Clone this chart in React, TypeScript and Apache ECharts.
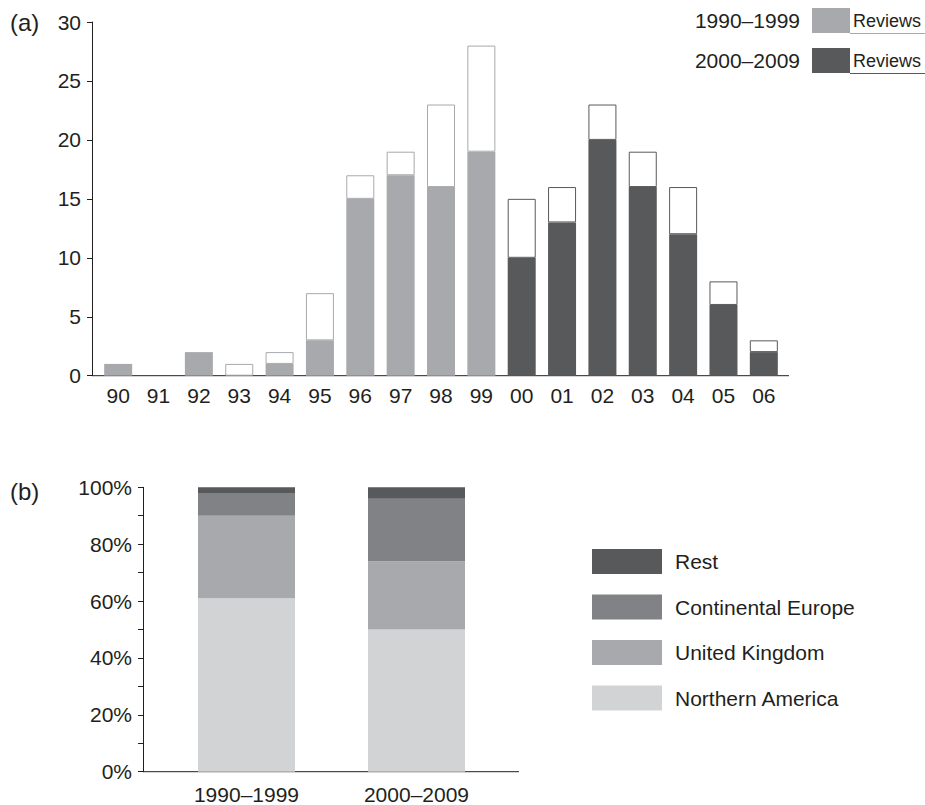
import React, { useEffect, useRef } from "react";
import * as echarts from "echarts";

const years = ["90", "91", "92", "93", "94", "95", "96", "97", "98", "99", "00", "01", "02", "03", "04", "05", "06"];
const otherArticles = [1, 0, 2, 0, 1, 3, 15, 17, 16, 19, 10, 13, 20, 16, 12, 6, 2];
const reviews = [0, 0, 0, 1, 1, 4, 2, 2, 7, 9, 5, 3, 3, 3, 4, 2, 1];
const decadeOf = ["1990–1999", "1990–1999", "1990–1999", "1990–1999", "1990–1999", "1990–1999", "1990–1999", "1990–1999", "1990–1999", "1990–1999", "2000–2009", "2000–2009", "2000–2009", "2000–2009", "2000–2009", "2000–2009", "2000–2009"];

const periods = ["1990–1999", "2000–2009"];
const northernAmerica = [61, 50];
const unitedKingdom = [29, 24];
const continentalEurope = [8, 22];
const rest = [2, 4];

const TEXT = "#231f20";
const FONT = "'Liberation Sans', Arial, Helvetica, sans-serif";
const FS = 21;
const DECADE_COLOR: Record<string, string> = { "1990–1999": "#a7a9ac", "2000–2009": "#58595b" };

export default function App() {
  const ref = useRef<HTMLDivElement>(null);
  useEffect(() => {
    if (!ref.current) return;
    const chart = echarts.init(ref.current, null, { renderer: "svg" });
    const filled = otherArticles.map((v, i) => ({
      value: v === 0 ? null : v,
      itemStyle: { color: DECADE_COLOR[decadeOf[i]] },
    }));
    const white = reviews.map((v, i) => ({
      value: v === 0 ? null : v,
      itemStyle: { color: "#ffffff", borderColor: DECADE_COLOR[decadeOf[i]], borderWidth: 1 },
    }));
    const legendA = (label: string, y: number, color: string) => [
      { type: "text", x: 800, y: y + 12.5, style: { text: label, fill: TEXT, font: `${FS}px ${FONT}`, textAlign: "right", textVerticalAlign: "middle" } },
      { type: "rect", x: 812, y, shape: { x: 0, y: 0, width: 38, height: 25 }, style: { fill: color } },
      { type: "text", x: 853, y: y + 12.5, style: { text: "Reviews", fill: TEXT, font: `18px ${FONT}`, textAlign: "left", textVerticalAlign: "middle" } },
      { type: "line", shape: { x1: 850, y1: y + 25.5, x2: 925, y2: y + 25.5 }, style: { stroke: color, lineWidth: 1 } },
    ];
    const option: any = {
      animation: false,
      textStyle: { fontFamily: FONT },
      grid: [
        { left: 98, top: 22, width: 686, height: 353.7 },
        { left: 161.5, top: 487.3, width: 340, height: 284.4 },
      ],
      xAxis: [
        {
          type: "category", gridIndex: 0, data: years,
          axisLine: { show: false }, axisTick: { show: false },
          axisLabel: { color: TEXT, fontSize: FS, margin: 9, fontFamily: FONT },
        },
        {
          type: "category", gridIndex: 1, data: periods,
          axisLine: { show: false }, axisTick: { show: false },
          axisLabel: { color: TEXT, fontSize: FS, margin: 12, fontFamily: FONT },
        },
      ],
      yAxis: [
        {
          type: "value", gridIndex: 0, min: 0, max: 30, interval: 5, offset: 6,
          axisLine: { show: true, lineStyle: { color: TEXT, width: 1 } },
          axisTick: { show: true, length: 5, lineStyle: { color: TEXT } },
          splitLine: { show: false },
          axisLabel: { color: TEXT, fontSize: FS, margin: 11, fontFamily: FONT },
        },
        {
          type: "value", gridIndex: 1, min: 0, max: 100, interval: 10, offset: 18.5,
          axisLine: { show: true, lineStyle: { color: TEXT, width: 1 } },
          axisTick: { show: true, length: 5, lineStyle: { color: TEXT } },
          splitLine: { show: false },
          axisLabel: {
            color: TEXT, fontSize: FS, margin: 11, fontFamily: FONT,
            formatter: (v: number) => (v % 20 === 0 ? `${v}%` : ""),
          },
        },
      ],
      legend: {
        orient: "vertical", left: 592, top: 549, padding: 0,
        itemWidth: 70, itemHeight: 25, itemGap: 20.5, icon: "rect",
        data: ["Rest", "Continental Europe", "United Kingdom", "Northern America"],
        textStyle: { color: TEXT, fontSize: FS, fontFamily: FONT, padding: [0, 0, 0, 8] },
        selectedMode: false,
      },
      series: [
        { name: "Other articles", type: "bar", xAxisIndex: 0, yAxisIndex: 0, stack: "a", barWidth: 28, data: filled },
        { name: "Reviews", type: "bar", xAxisIndex: 0, yAxisIndex: 0, stack: "a", barWidth: 28, data: white },
        { name: "Northern America", type: "bar", xAxisIndex: 1, yAxisIndex: 1, stack: "b", barWidth: 97, itemStyle: { color: "#d1d3d4" }, data: northernAmerica },
        { name: "United Kingdom", type: "bar", xAxisIndex: 1, yAxisIndex: 1, stack: "b", barWidth: 97, itemStyle: { color: "#a7a9ac" }, data: unitedKingdom },
        { name: "Continental Europe", type: "bar", xAxisIndex: 1, yAxisIndex: 1, stack: "b", barWidth: 97, itemStyle: { color: "#808285" }, data: continentalEurope },
        { name: "Rest", type: "bar", xAxisIndex: 1, yAxisIndex: 1, stack: "b", barWidth: 97, itemStyle: { color: "#58595b" }, data: rest },
      ],
      graphic: [
        { type: "line", shape: { x1: 92, y1: 375.7, x2: 789, y2: 375.7 }, style: { stroke: TEXT, lineWidth: 1 } },
        { type: "line", shape: { x1: 143, y1: 771.7, x2: 519, y2: 771.7 }, style: { stroke: TEXT, lineWidth: 1 } },
        { type: "text", x: 10, y: 22, style: { text: "(a)", fill: TEXT, font: `24px ${FONT}`, textVerticalAlign: "middle" } },
        { type: "text", x: 10, y: 491, style: { text: "(b)", fill: TEXT, font: `24px ${FONT}`, textVerticalAlign: "middle" } },
        ...legendA("1990–1999", 8, DECADE_COLOR["1990–1999"]),
        ...legendA("2000–2009", 48, DECADE_COLOR["2000–2009"]),
      ],
    };
    chart.setOption(option);
    return () => chart.dispose();
  }, []);
  return <div ref={ref} style={{ position: "fixed", left: 0, top: 0, width: 925, height: 805, background: "#fff" }} />;
}
